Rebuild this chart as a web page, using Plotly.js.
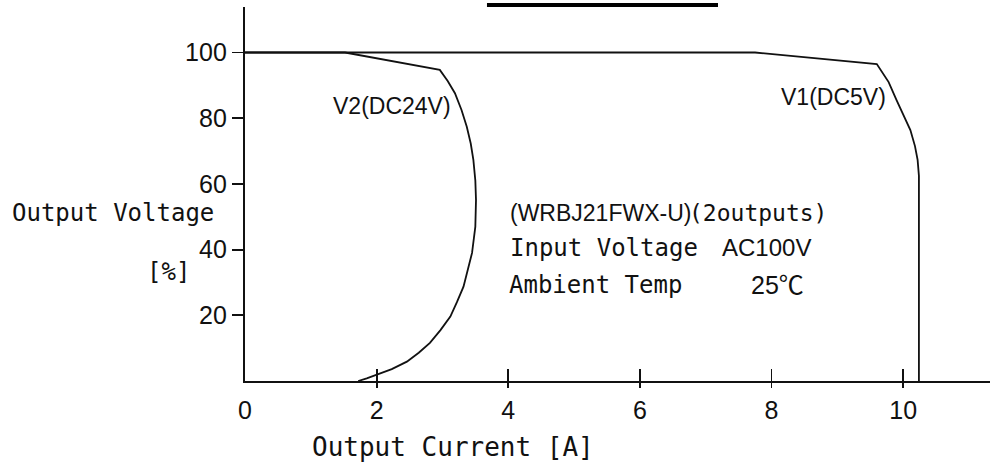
<!DOCTYPE html>
<html>
<head>
<meta charset="utf-8">
<script src="https://cdn.plot.ly/plotly-3.0.1.min.js"></script>
<style>html,body{margin:0;padding:0;background:#fff;}#chart{width:990px;height:466px;}</style>
</head>
<body>
<div id="chart"></div>
<script>
// V1 (DC5V) drooping characteristic: output current [A] vs output voltage [%]
const v1Current = [0, 7.75, 9.60, 9.78, 9.90, 10.01, 10.11, 10.18, 10.22, 10.24, 10.24];
const v1Voltage = [100, 100, 96.5, 91.0, 85.5, 81.0, 76.4, 71.5, 67.3, 62.5, 0];
// V2 (DC24V) drooping characteristic
const v2Current = [0, 1.52, 2.96, 3.08, 3.19, 3.29, 3.37, 3.43, 3.47, 3.50, 3.51, 3.50, 3.45, 3.39, 3.32, 3.22, 3.12, 2.97, 2.81, 2.64, 2.46, 2.23, 2.00, 1.85, 1.72];
const v2Voltage = [100, 100, 94.7, 91.3, 87.6, 82.5, 77.4, 72.3, 67.3, 61.0, 55.1, 47.0, 39.0, 33.8, 28.7, 24.0, 19.6, 15.5, 11.6, 8.6, 5.9, 3.6, 1.8, 0.8, 0];

const xTicks = [0, 2, 4, 6, 8, 10];
const xTickText = ['0', '2', '4', '6', '8', '10'];
const yTicks = [20, 40, 60, 80, 100];
const yTickText = ['20', '40', '60', '80', '100'];

const seriesNames = ['V1(DC5V)', 'V2(DC24V)'];
const titleY = 'Output Voltage';
const unitY = '[%]';
const titleX = 'Output Current [A]';
const noteModel = '(WRBJ21FWX-U)';
const noteOutputs = '(2outputs)';
const noteInputLabel = 'Input Voltage';
const noteInputValue = 'AC100V';
const noteTempLabel = 'Ambient Temp';
const noteTempValue = '25℃';

const MONO = 'DejaVu Sans Mono, Liberation Mono, monospace';
const SANS = 'Liberation Sans, Arial, Noto Sans CJK JP, sans-serif';
const INK = '#111111';

const traces = [
  {x: v1Current, y: v1Voltage, mode: 'lines', name: seriesNames[0],
   line: {color: INK, width: 1.8}, hoverinfo: 'skip'},
  {x: v2Current, y: v2Voltage, mode: 'lines', name: seriesNames[1],
   line: {color: INK, width: 1.8}, hoverinfo: 'skip'},
  {x: [null], y: [null], xaxis: 'x2', yaxis: 'y', mode: 'lines', showlegend: false, hoverinfo: 'skip'}
];

const layout = {
  width: 990, height: 466,
  margin: {l: 245, r: 0, t: 7, b: 85, pad: 0},
  paper_bgcolor: '#fff', plot_bgcolor: '#fff',
  showlegend: false,
  xaxis: {
    range: [0, 11.32], showgrid: false, zeroline: false,
    showline: true, linecolor: INK, linewidth: 2.2,
    tickmode: 'array', tickvals: xTicks, ticktext: xTickText,
    ticks: 'inside', ticklen: 12, tickwidth: 1.8, tickcolor: INK,
    tickfont: {family: SANS, size: 25, color: INK},
    ticklabelstandoff: 6, fixedrange: true
  },
  xaxis2: {
    overlaying: 'x', matches: 'x', anchor: 'y', side: 'bottom',
    showgrid: false, zeroline: false, showline: false,
    tickmode: 'array', tickvals: xTicks.slice(1),
    ticks: 'outside', ticklen: 6, tickwidth: 1.8, tickcolor: INK,
    showticklabels: false, fixedrange: true
  },
  yaxis: {
    range: [0, 113.85], showgrid: false, zeroline: false,
    showline: true, linecolor: INK, linewidth: 2.2,
    tickmode: 'array', tickvals: yTicks, ticktext: yTickText,
    ticks: 'outside', ticklen: 11, tickwidth: 1.8, tickcolor: INK,
    tickfont: {family: SANS, size: 25, color: INK},
    fixedrange: true
  },
  shapes: [
    {type: 'rect', xref: 'paper', yref: 'paper', x0: 0.3248, x1: 0.6349, y0: 1.0, y1: 1.0107,
     fillcolor: '#000', line: {width: 0}}
  ],
  annotations: [
    {text: seriesNames[1], x: 2.23, y: 83.7, xref: 'x', yref: 'y', showarrow: false,
     font: {family: SANS, size: 23, color: INK}},
    {text: seriesNames[0], x: 8.94, y: 86.5, xref: 'x', yref: 'y', showarrow: false,
     font: {family: SANS, size: 23, color: INK}},
    {text: noteModel, x: 4.0, y: 51.1, xref: 'x', yref: 'y', xanchor: 'left', showarrow: false,
     font: {family: SANS, size: 23, color: INK}},
    {text: noteOutputs, x: 6.72, y: 51.1, xref: 'x', yref: 'y', xanchor: 'left', showarrow: false,
     font: {family: MONO, size: 23, color: INK}},
    {text: noteInputLabel, x: 4.0, y: 40.5, xref: 'x', yref: 'y', xanchor: 'left', showarrow: false,
     font: {family: MONO, size: 24, color: INK}},
    {text: noteInputValue, x: 7.22, y: 40.5, xref: 'x', yref: 'y', xanchor: 'left', showarrow: false,
     font: {family: SANS, size: 24, color: INK}},
    {text: noteTempLabel, x: 3.98, y: 29.2, xref: 'x', yref: 'y', xanchor: 'left', showarrow: false,
     font: {family: MONO, size: 24, color: INK}},
    {text: noteTempValue, x: 7.66, y: 29.2, xref: 'x', yref: 'y', xanchor: 'left', showarrow: false,
     font: {family: SANS, size: 25, color: INK}},
    {text: titleY, x: -0.315, y: 51.1, xref: 'paper', yref: 'y', xanchor: 'left', showarrow: false,
     font: {family: MONO, size: 24, color: INK}},
    {text: unitY, x: -0.134, y: 33.2, xref: 'paper', yref: 'y', xanchor: 'left', showarrow: false,
     font: {family: MONO, size: 24, color: INK}},
    {text: titleX, x: 0.087, y: -0.176, xref: 'paper', yref: 'paper', xanchor: 'left', yanchor: 'middle', showarrow: false,
     font: {family: MONO, size: 26, color: INK}}
  ]
};

Plotly.newPlot('chart', traces, layout, {staticPlot: true, displayModeBar: false});
</script>
</body>
</html>
